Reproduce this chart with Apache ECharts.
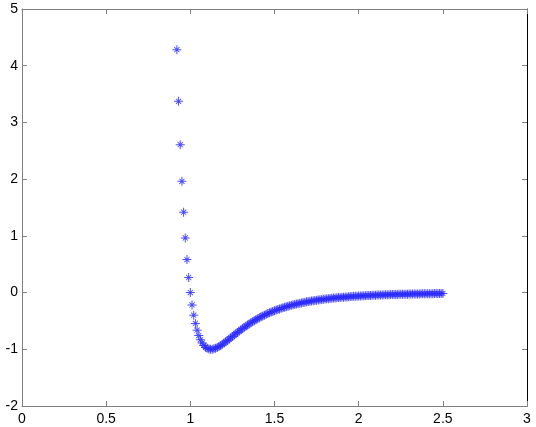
<!DOCTYPE html>
<html>
<head>
<meta charset="utf-8">
<script src="https://cdn.jsdelivr.net/npm/echarts@6/dist/echarts.min.js"></script>
<style>
html,body{margin:0;padding:0;background:#fff;}
#chart{width:536px;height:427px;}
</style>
</head>
<body>
<div id="chart"></div>
<script>
const xValues = [
0.92,0.93,0.94,0.95,0.96,0.97,0.98,0.99,1.00,1.01,1.02,1.03,1.04,1.05,1.06,1.07,1.08,1.09,
1.10,1.11,1.12,1.13,1.14,1.15,1.16,1.17,1.18,1.19,1.20,1.21,1.22,1.23,1.24,1.25,1.26,1.27,1.28,1.29,
1.30,1.31,1.32,1.33,1.34,1.35,1.36,1.37,1.38,1.39,1.40,1.41,1.42,1.43,1.44,1.45,1.46,1.47,1.48,1.49,
1.50,1.51,1.52,1.53,1.54,1.55,1.56,1.57,1.58,1.59,1.60,1.61,1.62,1.63,1.64,1.65,1.66,1.67,1.68,1.69,
1.70,1.71,1.72,1.73,1.74,1.75,1.76,1.77,1.78,1.79,1.80,1.81,1.82,1.83,1.84,1.85,1.86,1.87,1.88,1.89,
1.90,1.91,1.92,1.93,1.94,1.95,1.96,1.97,1.98,1.99,2.00,2.01,2.02,2.03,2.04,2.05,2.06,2.07,2.08,2.09,
2.10,2.11,2.12,2.13,2.14,2.15,2.16,2.17,2.18,2.19,2.20,2.21,2.22,2.23,2.24,2.25,2.26,2.27,2.28,2.29,
2.30,2.31,2.32,2.33,2.34,2.35,2.36,2.37,2.38,2.39,2.40,2.41,2.42,2.43,2.44,2.45,2.46,2.47,2.48,2.49,2.50
];
const yValues = [
4.283,3.373,2.607,1.961,1.418,0.963,0.582,0.264,0,-0.218,-0.398,-0.544,-0.663,-0.758,-0.832,-0.889,-0.932,-0.963,
-0.983,-0.995,-1.000,-0.998,-0.992,-0.982,-0.968,-0.951,-0.933,-0.913,-0.891,-0.868,-0.845,-0.822,-0.798,-0.774,-0.750,-0.726,-0.703,-0.680,
-0.657,-0.635,-0.613,-0.592,-0.572,-0.552,-0.532,-0.513,-0.495,-0.478,-0.461,-0.444,-0.428,-0.413,-0.398,-0.384,-0.370,-0.357,-0.344,-0.332,
-0.320,-0.309,-0.298,-0.288,-0.277,-0.268,-0.258,-0.249,-0.241,-0.232,-0.224,-0.216,-0.209,-0.202,-0.195,-0.188,-0.182,-0.176,-0.170,-0.164,
-0.159,-0.154,-0.149,-0.144,-0.139,-0.134,-0.130,-0.126,-0.122,-0.118,-0.114,-0.111,-0.107,-0.104,-0.100,-0.097,-0.094,-0.091,-0.089,-0.086,
-0.083,-0.081,-0.078,-0.076,-0.074,-0.071,-0.069,-0.067,-0.065,-0.063,-0.062,-0.060,-0.058,-0.056,-0.055,-0.053,-0.052,-0.050,-0.049,-0.047,
-0.046,-0.045,-0.044,-0.042,-0.041,-0.040,-0.039,-0.038,-0.037,-0.036,-0.035,-0.034,-0.033,-0.032,-0.031,-0.031,-0.030,-0.029,-0.028,-0.028,
-0.027,-0.026,-0.025,-0.025,-0.024,-0.024,-0.023,-0.022,-0.022,-0.021,-0.021,-0.020,-0.020,-0.019,-0.019,-0.018,-0.018,-0.018,-0.017,-0.017,-0.016
];
const xRange = [0, 3, 0.5];
const yRange = [-2, 5, 1];

const points = xValues.map((x, i) => [x, yValues[i]]);

const asterisk = 'path://M0,4.45L10,4.45L10,5.55L0,5.55Z M4.45,0L5.55,0L5.55,10L4.45,10Z M1.8,2.5L2.5,1.8L8.2,7.5L7.5,8.2Z M7.5,1.8L8.2,2.5L2.5,8.2L1.8,7.5Z';

const gray = '#808080';
const labelFont = {color: '#000', fontSize: 14, fontFamily: '"Liberation Sans", Arial, sans-serif'};

const chart = echarts.init(document.getElementById('chart'), null, {renderer: 'canvas'});
chart.setOption({
  animation: false,
  backgroundColor: '#fff',
  grid: {left: 22, right: 9, top: 9, bottom: 21, containLabel: false},
  xAxis: [
    {type: 'value', position: 'bottom', min: xRange[0], max: xRange[1], interval: xRange[2],
     axisLine: {onZero: false, lineStyle: {color: gray, width: 1}},
     axisTick: {inside: true, length: 5, lineStyle: {color: gray}},
     axisLabel: Object.assign({margin: 6}, labelFont),
     splitLine: {show: false}},
    {type: 'value', position: 'top', min: xRange[0], max: xRange[1], interval: xRange[2],
     axisLine: {onZero: false, lineStyle: {color: gray, width: 1}},
     axisTick: {inside: true, length: 5, lineStyle: {color: gray}},
     axisLabel: {show: false},
     splitLine: {show: false}}
  ],
  yAxis: [
    {type: 'value', position: 'left', min: yRange[0], max: yRange[1], interval: yRange[2],
     axisLine: {onZero: false, lineStyle: {color: gray, width: 1}},
     axisTick: {inside: true, length: 5, lineStyle: {color: gray}},
     axisLabel: Object.assign({margin: 4}, labelFont),
     splitLine: {show: false}},
    {type: 'value', position: 'right', min: yRange[0], max: yRange[1], interval: yRange[2],
     axisLine: {onZero: false, lineStyle: {color: '#000', width: 1}},
     axisTick: {inside: true, length: 5, lineStyle: {color: gray}},
     axisLabel: {show: false},
     splitLine: {show: false}}
  ],
  series: [{
    type: 'scatter',
    xAxisIndex: 0,
    yAxisIndex: 0,
    data: points,
    symbol: asterisk,
    symbolSize: 9,
    itemStyle: {color: '#2a2aff', opacity: 0.85},
    emphasis: {disabled: true}
  }]
});
</script>
</body>
</html>
